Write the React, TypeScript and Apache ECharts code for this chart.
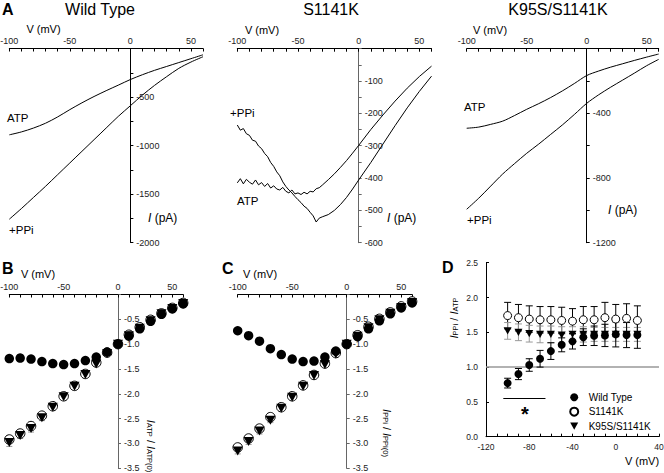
import React, { useEffect, useRef } from 'react';
import * as echarts from 'echarts';

const FONT = '"Liberation Sans", Arial, sans-serif';

// ---------- Top row: raw I-V traces ----------
const V_TRACE = [-100, -90, -80, -70, -60, -50, -40, -30, -20, -10, 0, 10, 20, 30, 40, 50, 60];
const WT_ATP = [-890, -860, -820, -770, -705, -630, -560, -495, -435, -378, -320, -270, -225, -185, -145, -105, -65];
const WT_PPI = [-1760, -1650, -1535, -1420, -1300, -1180, -1060, -940, -820, -700, -590, -480, -380, -290, -205, -140, -85];

const S_V = [-100, -97.5, -95, -92.5, -90, -87.5, -85, -82.5, -80, -77.5, -75, -72.5, -70, -67.5, -65, -62.5, -60, -57.5, -55, -52.5, -50, -47.5, -45, -42.5, -40, -37.5, -35, -32.5, -30, -25, -20, -15, -10, -5, 0, 10, 20, 30, 40, 50, 60];
const S_PPI = [-236, -252, -247, -263, -268, -283, -286, -301, -309, -324, -334, -352, -364, -381, -393, -412, -426, -437, -446, -457, -467, -476, -487, -494, -506, -517, -536, -524, -520, -513, -500, -482, -460, -434, -406, -352, -295, -238, -183, -132, -85];
const S_ATP = [-415, -402, -418, -404, -413, -419, -406, -421, -414, -426, -417, -431, -424, -434, -437, -429, -441, -446, -437, -449, -446, -451, -444, -449, -441, -443, -433, -430, -422, -405, -387, -367, -346, -323, -299, -250, -205, -162, -122, -86, -54];

const K_ATP = [-492, -485, -468, -448, -413, -375, -340, -302, -260, -214, -166, -138, -114, -93, -72, -52, -33];
const K_PPI = [-993, -925, -850, -775, -710, -647, -590, -530, -470, -405, -338, -285, -238, -194, -150, -105, -66];

// ---------- Bottom row: normalized I-V ----------
const V_NORM = [-100, -90, -80, -70, -60, -50, -40, -30, -20, -10, 0, 10, 20, 30, 40, 50, 60];
const B_FILLED = [-1.29, -1.28, -1.30, -1.35, -1.39, -1.41, -1.39, -1.33, -1.26, -1.16, -1.0, -0.84, -0.69, -0.54, -0.40, -0.29, -0.19];
const B_FILLED_ERR = [0.06, 0.06, 0.05, 0.06, 0.05, 0.05, 0.04, 0.04, 0.04, 0.04, 0, 0.03, 0.03, 0.03, 0.03, 0.03, 0.03];
const B_OPEN = [-2.92, -2.80, -2.65, -2.44, -2.25, -2.05, -1.84, -1.60, -1.37, -1.17, -1.0, -0.81, -0.66, -0.51, -0.38, -0.27, -0.17];
const B_OPEN_ERR = [0.08, 0.08, 0.08, 0.06, 0.05, 0.04, 0.04, 0.04, 0.04, 0.03, 0, 0.03, 0.03, 0.03, 0.03, 0.03, 0.03];
const B_TRI = [-2.98, -2.84, -2.70, -2.48, -2.27, -2.06, -1.85, -1.61, -1.40, -1.19, -1.0, -0.83, -0.68, -0.53, -0.39, -0.28, -0.18];
const B_TRI_ERR = [0.08, 0.06, 0.07, 0.06, 0.05, 0.04, 0.04, 0.04, 0.04, 0.03, 0, 0.03, 0.03, 0.03, 0.03, 0.03, 0.03];

const C_FILLED = [-0.73, -0.83, -0.94, -1.09, -1.21, -1.30, -1.35, -1.34, -1.26, -1.14, -1.0, -0.85, -0.69, -0.53, -0.39, -0.27, -0.17];
const C_FILLED_ERR = [0.05, 0.04, 0.04, 0.04, 0.04, 0.04, 0.04, 0.04, 0.04, 0.04, 0, 0.03, 0.03, 0.03, 0.03, 0.03, 0.03];
const C_OPEN = [-3.08, -2.90, -2.70, -2.47, -2.27, -2.05, -1.83, -1.62, -1.39, -1.18, -1.0, -0.82, -0.65, -0.49, -0.36, -0.24, -0.14];
const C_OPEN_ERR = [0.07, 0.07, 0.06, 0.05, 0.05, 0.04, 0.04, 0.04, 0.04, 0.03, 0, 0.03, 0.03, 0.03, 0.03, 0.03, 0.03];
const C_TRI = [-3.15, -2.96, -2.75, -2.53, -2.29, -2.07, -1.85, -1.63, -1.41, -1.20, -1.0, -0.84, -0.67, -0.51, -0.38, -0.26, -0.16];
const C_TRI_ERR = [0.06, 0.06, 0.06, 0.05, 0.05, 0.04, 0.04, 0.04, 0.04, 0.03, 0, 0.03, 0.03, 0.03, 0.03, 0.03, 0.03];

// ---------- Panel D: ratio ----------
const V_RATIO = [-100, -90, -80, -70, -60, -50, -40, -30, -20, -10, 0, 10, 20];
const D_WT = [0.77, 0.90, 1.03, 1.12, 1.23, 1.32, 1.37, 1.43, 1.45, 1.455, 1.47, 1.46, 1.46];
const D_WT_ERR = [0.07, 0.08, 0.09, 0.12, 0.12, 0.10, 0.11, 0.12, 0.14, 0.16, 0.18, 0.18, 0.19];
const D_S = [1.74, 1.71, 1.69, 1.68, 1.68, 1.67, 1.66, 1.68, 1.68, 1.71, 1.69, 1.70, 1.67];
const D_S_ERR = [0.19, 0.19, 0.19, 0.19, 0.19, 0.19, 0.18, 0.19, 0.19, 0.22, 0.21, 0.21, 0.21];
const D_K = [1.52, 1.50, 1.48, 1.47, 1.47, 1.46, 1.47, 1.47, 1.47, 1.47, 1.47, 1.47, 1.47];
const D_K_ERR = [0.12, 0.12, 0.12, 0.12, 0.12, 0.12, 0.11, 0.11, 0.10, 0.10, 0.10, 0.10, 0.10];
const LEGEND_NAMES = ['Wild Type', 'S1141K', 'K95S/S1141K'];
const SIG_BAR_X = [-104, -65];
const SIG_BAR_Y = 0.55;

const TRI_DOWN = 'path://M0,0L10,0L5,9Z';

// grid boxes (pixels): A, S1141K, K95S/S1141K, B, C, D
const GRIDS = [
  { left: 9.3, top: 48.5, width: 193.7, height: 194 },
  { left: 237.3, top: 48.7, width: 194.2, height: 194 },
  { left: 466.7, top: 48.7, width: 192, height: 194 },
  { left: 9.3, top: 294.5, width: 173.9, height: 173.8 },
  { left: 237.7, top: 294.5, width: 174.4, height: 173.8 },
  { left: 486, top: 262.7, width: 173, height: 174 },
];
const X_MIN = -100;
const X_MAX = 60;

function pairs(xs: number[], ys: number[]) {
  return xs.map((x, i) => [x, ys[i]]);
}

function traceSeries(idx: number, xs: number[], ys: number[]) {
  return {
    type: 'line', xAxisIndex: idx, yAxisIndex: idx, data: pairs(xs, ys),
    symbol: 'none', showSymbol: false, smooth: 0.3, silent: true,
    lineStyle: { color: '#000', width: 1 },
  };
}

function errSeries(idx: number, xs: number[], ys: number[], es: number[], color: string, cap: number, z: number) {
  return {
    type: 'custom', xAxisIndex: idx, yAxisIndex: idx, silent: true, z,
    data: xs.map((x, i) => [x, ys[i], es[i]]),
    encode: { x: 0, y: 1 },
    renderItem: (params: any, api: any) => {
      const x = api.value(0), y = api.value(1), e = api.value(2);
      if (!e) return { type: 'group', children: [] };
      const hi = api.coord([x, y + e]);
      const lo = api.coord([x, y - e]);
      const style = { stroke: color, lineWidth: 1 };
      return {
        type: 'group',
        children: [
          { type: 'line', shape: { x1: hi[0], y1: hi[1], x2: lo[0], y2: lo[1] }, style },
          { type: 'line', shape: { x1: hi[0] - cap, y1: hi[1], x2: hi[0] + cap, y2: hi[1] }, style },
          { type: 'line', shape: { x1: lo[0] - cap, y1: lo[1], x2: lo[0] + cap, y2: lo[1] }, style },
        ],
      };
    },
  };
}

function scatter(name: string, idx: number, xs: number[], ys: number[], kind: 'filled' | 'open' | 'tri', size: number, z: number, extra: any = {}) {
  const symbol = kind === 'tri' ? TRI_DOWN : 'circle';
  return {
    name, type: 'scatter', xAxisIndex: idx, yAxisIndex: idx, data: pairs(xs, ys),
    symbol, symbolSize: kind === 'tri' ? [size, size * 0.9] : size, silent: true, z,
    itemStyle: kind === 'open'
      ? { color: '#fff', borderColor: '#000', borderWidth: 1, opacity: 1 }
      : { color: '#000', borderColor: '#000', borderWidth: 0, opacity: 1 },
    ...extra,
  };
}

const tickLabel = { fontFamily: FONT, fontSize: 9, color: '#222' };

function topXAxis(idx: number) {
  return {
    gridIndex: idx, type: 'value', min: X_MIN, max: X_MAX, interval: 10, position: 'top',
    axisLine: { show: true, onZero: false, lineStyle: { color: '#000', width: 1 } },
    axisTick: { show: true, inside: true, length: 3, lineStyle: { color: '#000', width: 1 } },
    axisLabel: { ...tickLabel, margin: 3, formatter: (v: number) => (v % 50 === 0 ? String(v) : '') },
    splitLine: { show: false },
  };
}

// vertical axis crossing the horizontal axis at V = 0
function innerYAxis(idx: number, min: number, interval: number, labelEvery: number, color: string, dec = 0) {
  const offset = -((0 - X_MIN) / (X_MAX - X_MIN)) * GRIDS[idx].width;
  return {
    gridIndex: idx, type: 'value', min, max: 0, interval, position: 'left', offset,
    axisLine: { show: true, onZero: false, lineStyle: { color, width: 1 } },
    axisTick: { show: true, inside: true, length: 3, lineStyle: { color, width: 1 } },
    axisLabel: {
      ...tickLabel, inside: true, margin: 6,
      formatter: (v: number) => {
        if (v === 0) return '';
        const k = v / labelEvery;
        return Math.abs(k - Math.round(k)) < 1e-9 ? v.toFixed(dec) : '';
      },
    },
    splitLine: { show: false },
  };
}

const App: React.FC = () => {
  const ref = useRef<HTMLDivElement>(null);

  useEffect(() => {
    document.body.style.margin = '0';
    if (!ref.current) return;
    const chart = echarts.init(ref.current, null, { renderer: 'svg' });

    const txt = (text: string, x: number, y: number, size: number, opts: any = {}) => ({
      type: 'text', x, y, silent: true,
      style: {
        text, fontFamily: FONT, fontSize: size, fill: '#000',
        align: opts.align || 'left', verticalAlign: 'middle', fontWeight: opts.bold ? 'bold' : 'normal',
        ...(opts.rich ? { rich: opts.rich } : {}),
      },
      ...(opts.rotation ? { rotation: opts.rotation } : {}),
    });

    const subRich = {
      i: { fontFamily: FONT, fontSize: 11, fontStyle: 'italic', fill: '#000', lineHeight: 14, verticalAlign: 'bottom' },
      n: { fontFamily: FONT, fontSize: 11, fill: '#000', lineHeight: 14, verticalAlign: 'bottom' },
      s: { fontFamily: FONT, fontSize: 7.5, fill: '#000', lineHeight: 11, verticalAlign: 'bottom' },
    };
    const itRich = { it: { fontFamily: FONT, fontSize: 12, fontStyle: 'italic', fill: '#000' } };

    const option: any = {
      animation: false,
      backgroundColor: '#fff',
      grid: GRIDS.map((g) => ({ ...g, outerBoundsMode: 'none' })),
      xAxis: [
        topXAxis(0), topXAxis(1), topXAxis(2), topXAxis(3), topXAxis(4),
        {
          gridIndex: 5, type: 'value', min: -120, max: 40, interval: 10, position: 'bottom',
          axisLine: { show: true, onZero: false, lineStyle: { color: '#000', width: 1 } },
          axisTick: { show: true, inside: true, length: 3, lineStyle: { color: '#000' } },
          axisLabel: { ...tickLabel, fontSize: 8.5, margin: 6, formatter: (v: number) => (v % 40 === 0 ? String(v) : '') },
          splitLine: { show: false },
        },
      ],
      yAxis: [
        innerYAxis(0, -2000, 250, 500, '#000'),
        innerYAxis(1, -600, 50, 100, '#666'),
        innerYAxis(2, -1200, 200, 400, '#000'),
        innerYAxis(3, -3.5, 0.5, 0.5, '#666', 1),
        innerYAxis(4, -3.5, 0.5, 0.5, '#666', 1),
        {
          gridIndex: 5, type: 'value', min: 0, max: 2.5, interval: 0.5, position: 'left',
          axisLine: { show: true, onZero: false, lineStyle: { color: '#000', width: 1 } },
          axisTick: { show: true, inside: true, length: 3, lineStyle: { color: '#000' } },
          axisLabel: { ...tickLabel, fontSize: 8.5, margin: 8, formatter: (v: number) => v.toFixed(1) },
          splitLine: { show: false },
        },
      ],
      legend: {
        data: LEGEND_NAMES, orient: 'vertical', left: 564.2, top: 386.3,
        itemWidth: 8, itemHeight: 8, itemGap: 2.4, selectedMode: false,
        textStyle: { fontFamily: FONT, fontSize: 10, color: '#000', lineHeight: 12, padding: [0, 0, 0, 5.5] },
      },
      series: [
        traceSeries(0, V_TRACE, WT_ATP),
        traceSeries(0, V_TRACE, WT_PPI),
        { ...traceSeries(1, S_V, S_ATP), smooth: false },
        { ...traceSeries(1, S_V, S_PPI), smooth: false },
        traceSeries(2, V_TRACE, K_ATP),
        traceSeries(2, V_TRACE, K_PPI),

        errSeries(3, V_NORM, B_OPEN, B_OPEN_ERR, '#999', 3, 2),
        errSeries(3, V_NORM, B_TRI, B_TRI_ERR, '#999', 3, 2),
        errSeries(3, V_NORM, B_FILLED, B_FILLED_ERR, '#000', 3, 2),
        scatter('B open', 3, V_NORM, B_OPEN, 'open', 9.5, 3),
        scatter('B tri', 3, V_NORM, B_TRI, 'tri', 10, 4),
        scatter('B filled', 3, V_NORM, B_FILLED, 'filled', 9.5, 5),

        errSeries(4, V_NORM, C_OPEN, C_OPEN_ERR, '#999', 3, 2),
        errSeries(4, V_NORM, C_TRI, C_TRI_ERR, '#999', 3, 2),
        errSeries(4, V_NORM, C_FILLED, C_FILLED_ERR, '#000', 3, 2),
        scatter('C open', 4, V_NORM, C_OPEN, 'open', 9.5, 3),
        scatter('C tri', 4, V_NORM, C_TRI, 'tri', 10, 4),
        scatter('C filled', 4, V_NORM, C_FILLED, 'filled', 9.5, 5),

        errSeries(5, V_RATIO, D_S, D_S_ERR, '#000', 3.5, 2),
        errSeries(5, V_RATIO, D_K, D_K_ERR, '#999', 3.5, 2),
        errSeries(5, V_RATIO, D_WT, D_WT_ERR, '#000', 3.5, 2),
        scatter(LEGEND_NAMES[1], 5, V_RATIO, D_S, 'open', 8, 3),
        scatter(LEGEND_NAMES[2], 5, V_RATIO, D_K, 'tri', 8, 4),
        scatter(LEGEND_NAMES[0], 5, V_RATIO, D_WT, 'filled', 8, 5, {
          markLine: {
            silent: true, symbol: 'none', label: { show: false }, z: 1,
            lineStyle: { color: '#999', width: 1.5, type: 'solid' },
            data: [
              { yAxis: 1 },
              [
                { coord: [SIG_BAR_X[0], SIG_BAR_Y], lineStyle: { color: '#000', width: 1, type: 'solid' } },
                { coord: [SIG_BAR_X[1], SIG_BAR_Y] },
              ],
            ],
          },
        }),
      ],
      graphic: [
        txt('A', 2, 9, 16, { bold: true }),
        txt('Wild Type', 100, 9, 16, { align: 'center' }),
        txt('S1141K', 331, 9, 16, { align: 'center' }),
        txt('K95S/S1141K', 558, 9, 16, { align: 'center' }),
        txt('V (mV)', 43.5, 28.5, 11, { align: 'center' }),
        txt('V (mV)', 262, 30, 11, { align: 'center' }),
        txt('V (mV)', 490, 29.5, 11, { align: 'center' }),
        txt('ATP', 7, 118, 11.5),
        txt('+PPi', 9, 230, 11.5),
        txt('+PPi', 230, 113, 11.5),
        txt('ATP', 237, 201, 11.5),
        txt('ATP', 464, 107, 11.5),
        txt('+PPi', 467, 220, 11.5),
        txt('{it|I} (pA)', 148, 218, 12, { rich: itRich }),
        txt('{it|I} (pA)', 387, 218, 12, { rich: itRich }),
        txt('{it|I} (pA)', 608, 210, 12, { rich: itRich }),
        txt('B', 2, 268, 16, { bold: true }),
        txt('C', 222, 268, 16, { bold: true }),
        txt('D', 442, 267, 16, { bold: true }),
        txt('V (mV)', 38, 273.5, 11, { align: 'center' }),
        txt('V (mV)', 260, 273.5, 11, { align: 'center' }),
        txt('V (mV)', 642, 461, 11, { align: 'center' }),
        txt('{i|I}{s|ATP}{n| / }{i|I}{s|ATP(0)}', 152, 446, 11, { align: 'center', rich: subRich, rotation: -Math.PI / 2 }),
        txt('{i|I}{s|PPi}{n| / }{i|I}{s|PPi(0)}', 388, 433, 11, { align: 'center', rich: subRich, rotation: -Math.PI / 2 }),
        txt('{i|I}{s|PPi}{n| / }{i|I}{s|ATP}', 452, 318, 11, { align: 'center', rich: subRich, rotation: Math.PI / 2 }),
        txt('*', 525, 414, 20, { align: 'center', bold: true }),
      ],
    };

    chart.setOption(option);
    return () => chart.dispose();
  }, []);

  return <div ref={ref} style={{ width: 664, height: 473 }} />;
};

export default App;
